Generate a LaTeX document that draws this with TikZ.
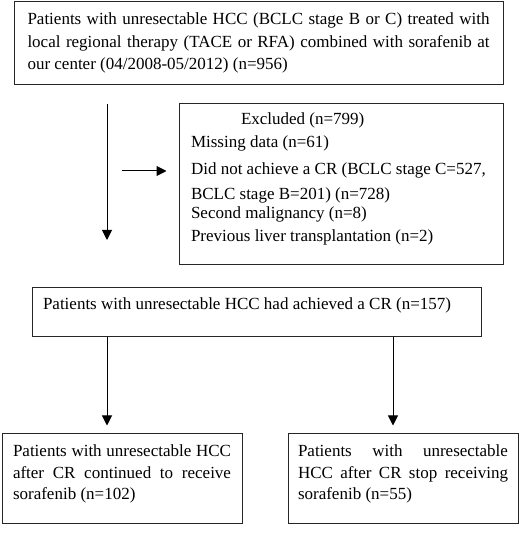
\documentclass[tikz,border=0pt]{standalone}
\usepackage{fontspec}
\setmainfont{Liberation Serif}
\usetikzlibrary{arrows.meta}
\newcommand{\bxt}[5]{\begin{minipage}[c][#1][t]{#2}\fontsize{17}{#4}\selectfont\hyphenpenalty=10000\exhyphenpenalty=10000\vspace*{#3}#5\end{minipage}}
\tikzset{
  bx/.style={draw=black!85, line width=1pt, rectangle, inner sep=0pt, anchor=center},
  arr/.style={-{Triangle[length=10pt,width=10pt]}, line width=1pt, black}
}
\begin{document}
\begin{tikzpicture}
\useasboundingbox (0,0) rectangle (520pt,533pt);
\node[bx, minimum width=489pt, minimum height=83pt] (top) at (258.5pt,489.5pt)
  {\bxt{83pt}{462pt}{11pt}{22.5pt}{Patients with unresectable HCC (BCLC stage B or C) treated with\linebreak local regional therapy (TACE or RFA) combined with sorafenib at\linebreak our center (04/2008-05/2012) (n=956)}};
\node[bx, minimum width=324pt, minimum height=161pt] (excl) at (341pt,348.5pt)
  {\bxt{161pt}{300pt}{9pt}{22pt}{\hspace*{50pt}Excluded (n=799)\\[1pt]
  Missing data (n=61)\\[5pt]
  Did not achieve a CR (BCLC stage C=527,\\[3pt]
  BCLC stage B=201) (n=728)\\[-3pt]
  Second malignancy (n=8)\\[1pt]
  Previous liver transplantation (n=2)}};
\node[bx, minimum width=449pt, minimum height=49pt] (mid) at (256.5pt,220.5pt)
  {\bxt{49pt}{427pt}{10pt}{22pt}{Patients with unresectable HCC had achieved a CR (n=157)}};
\node[bx, minimum width=240pt, minimum height=90pt] (bl) at (122pt,54pt)
  {\bxt{90pt}{218pt}{11pt}{21.5pt}{Patients with unresectable HCC\linebreak after CR continued to receive\linebreak sorafenib (n=102)}};
\node[bx, minimum width=230pt, minimum height=90pt] (br) at (403pt,54pt)
  {\bxt{90pt}{210pt}{11pt}{21.5pt}{Patients with unresectable\linebreak HCC after CR stop receiving\linebreak sorafenib (n=55)}};
\coordinate (xa) at (107pt,0pt);
\coordinate (xb) at (393pt,0pt);
\coordinate (v1end) at (107pt,293pt);
\coordinate (hstart) at (122pt,362pt);
\draw[arr, shorten <=19pt] (top.south -| xa) -- (v1end);
\draw[arr, shorten >=12pt] (hstart) -- (excl.west |- hstart);
\draw[arr, shorten >=8pt] (mid.south -| xa) -- (bl.north -| xa);
\draw[arr, shorten >=8pt] (mid.south -| xb) -- (br.north -| xb);
\end{tikzpicture}
\end{document}
